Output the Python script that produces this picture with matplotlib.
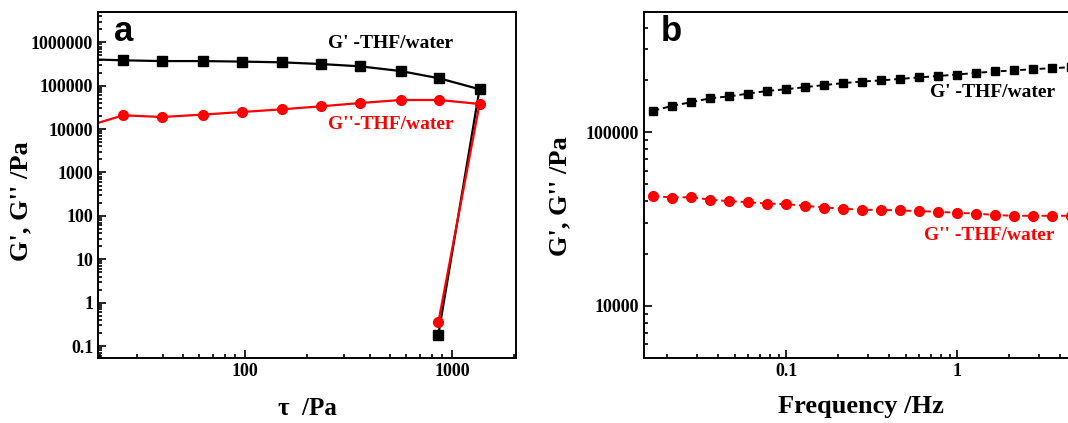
import matplotlib
matplotlib.use('Agg')
import matplotlib.pyplot as plt
from matplotlib.ticker import LogLocator, FuncFormatter, NullFormatter, FixedLocator

# panel a: amplitude sweep (stress tau, Pa)
tau = [16.6, 25.8, 39.8, 62.5, 97, 151, 233, 360, 565, 870, 1360, 860]
g1_a = [4.1e5, 3.85e5, 3.7e5, 3.7e5, 3.6e5, 3.46e5, 3.16e5, 2.8e5, 2.18e5, 1.48e5, 8.3e4, 0.18]
g2_a = [1.1e4, 2.08e4, 1.9e4, 2.16e4, 2.48e4, 2.86e4, 3.35e4, 3.99e4, 4.69e4, 4.69e4, 3.79e4, 0.35]

# panel b: frequency sweep (Hz)
freq = [0.0167, 0.0215, 0.0278, 0.0359, 0.0464, 0.0599, 0.0774, 0.1, 0.129, 0.167,
        0.215, 0.278, 0.359, 0.464, 0.599, 0.774, 1.0, 1.29, 1.67, 2.15, 2.78, 3.59, 4.64]
g1_b = [1.33e5, 1.42e5, 1.49e5, 1.57e5, 1.61e5, 1.67e5, 1.73e5, 1.77e5, 1.82e5, 1.87e5,
        1.92e5, 1.96e5, 1.99e5, 2.03e5, 2.07e5, 2.11e5, 2.15e5, 2.20e5, 2.24e5, 2.27e5,
        2.31e5, 2.34e5, 2.37e5]
g2_b = [4.30e4, 4.20e4, 4.23e4, 4.08e4, 4.01e4, 3.95e4, 3.88e4, 3.85e4, 3.77e4, 3.68e4,
        3.63e4, 3.57e4, 3.57e4, 3.54e4, 3.51e4, 3.48e4, 3.43e4, 3.40e4, 3.33e4, 3.30e4,
        3.30e4, 3.30e4, 3.30e4]

a_xticks = [100, 1000]
a_yticks = [0.1, 1, 10, 100, 1000, 10000, 100000, 1000000]
b_xticks = [0.1, 1]
b_yticks = [10000, 100000]

plt.rcParams['font.family'] = 'Liberation Serif'
plt.rcParams['font.weight'] = 'bold'

red = '#ff0000'


def fmt(v, pos):
    return '%.0f' % v if v >= 1 else '%g' % v


def style(ax, xt, yt):
    for s in ax.spines.values():
        s.set_linewidth(1.4)
    ax.xaxis.set_major_locator(FixedLocator(xt))
    ax.yaxis.set_major_locator(FixedLocator(yt))
    ax.xaxis.set_minor_locator(LogLocator(base=10, subs=range(2, 10), numticks=30))
    ax.yaxis.set_minor_locator(LogLocator(base=10, subs=range(2, 10), numticks=30))
    ax.tick_params(which='both', direction='in', labelsize=13, width=1.2)
    ax.tick_params(which='major', length=6)
    ax.tick_params(which='minor', length=3)
    ax.xaxis.set_major_formatter(FuncFormatter(fmt))
    ax.yaxis.set_major_formatter(FuncFormatter(fmt))
    ax.xaxis.set_minor_formatter(NullFormatter())
    ax.yaxis.set_minor_formatter(NullFormatter())


fig = plt.figure(figsize=(10.68, 4.23), dpi=100)

# ---- a ----
ax1 = fig.add_axes([0.0918, 0.1537, 0.3913, 0.8179])
ax1.plot(tau, g1_a, '-s', color='black', lw=1.6, ms=6.5)
ax1.plot(tau, g2_a, '-o', color=red, lw=1.6, ms=7)
ax1.set_xscale('log')
ax1.set_yscale('log')
ax1.set_xlim(19.5, 2040)
ax1.set_ylim(0.053, 5e6)
style(ax1, a_xticks, a_yticks)
ax1.set_xlabel('τ  /Pa', fontsize=18, fontweight='bold')
ax1.xaxis.set_label_coords(0.5, -0.112)
ax1.set_ylabel("G', G'' /Pa", fontsize=19, fontweight='bold')
ax1.yaxis.set_label_coords(-0.158, 0.454)
ax1.text(0.038, 0.945, 'a', transform=ax1.transAxes, fontsize=25, fontweight='bold',
         family='Liberation Sans', va='center', ha='left')
ax1.text(0.70, 0.91, "G' -THF/water", transform=ax1.transAxes, fontsize=14,
         fontweight='bold', ha='center', va='center')
ax1.text(0.70, 0.676, "G''-THF/water", transform=ax1.transAxes, fontsize=14,
         fontweight='bold', ha='center', va='center', color=red)

# ---- b ----
ax2 = fig.add_axes([0.603, 0.1537, 0.4535, 0.8179])
ax2.plot(freq, g1_b, '--s', color='black', lw=1.4, ms=5.5, dashes=(3, 2))
ax2.plot(freq, g2_b, '--o', color=red, lw=1.4, ms=7, dashes=(3, 2))
ax2.set_xscale('log')
ax2.set_yscale('log')
ax2.set_xlim(0.0147, 10)
ax2.set_ylim(5000, 4.93e5)
style(ax2, b_xticks, b_yticks)
ax2.set_xlabel('Frequency /Hz', fontsize=19, fontweight='bold')
ax2.xaxis.set_label_coords(0.448, -0.108)
ax2.set_ylabel("G', G'' /Pa", fontsize=19, fontweight='bold')
ax2.yaxis.set_label_coords(-0.151, 0.468)
ax2.text(0.035, 0.945, 'b', transform=ax2.transAxes, fontsize=25, fontweight='bold',
         family='Liberation Sans', va='center', ha='left')
ax2.text(0.59, 0.766, "G' -THF/water", transform=ax2.transAxes, fontsize=14,
         fontweight='bold', ha='left', va='center')
ax2.text(0.578, 0.355, "G'' -THF/water", transform=ax2.transAxes, fontsize=14,
         fontweight='bold', ha='left', va='center', color=red)

fig.savefig('out.png', dpi=100)
